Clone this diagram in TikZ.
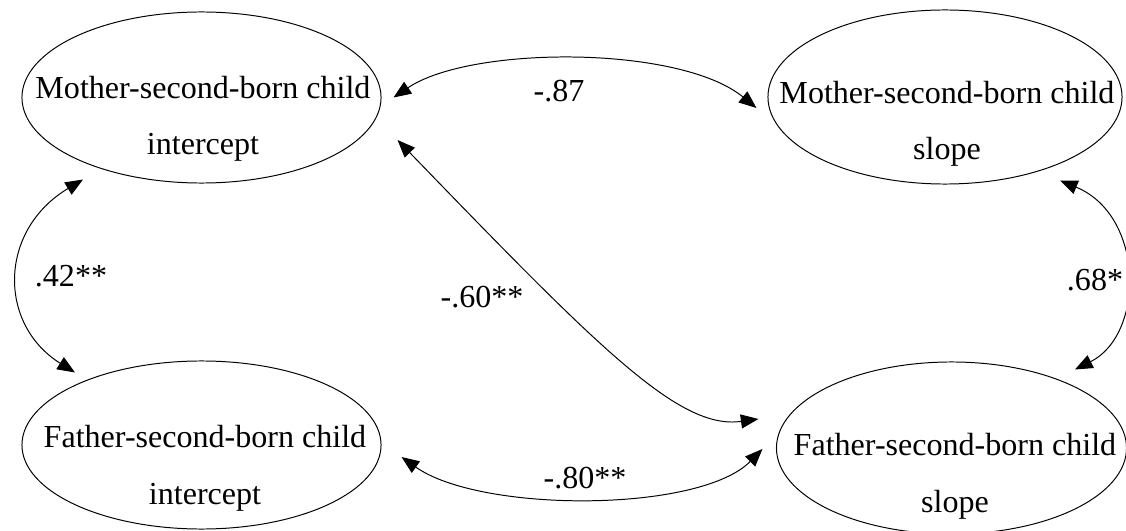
\documentclass[tikz,border=0pt]{standalone}
\usepackage{fontspec}
\setmainfont{Liberation Serif}
\usepackage{tikz}
\usetikzlibrary{arrows.meta}
\usetikzlibrary{shapes.geometric}
\tikzset{
    latent/.style = {ellipse, draw, line width=0.7pt, inner sep=0pt},
    varname/.style = {align=center, inner sep=0pt, anchor=base, font=\fontsize{22.8}{40.5}\selectfont},
    coef/.style = {inner sep=0pt, anchor=base, font=\fontsize{22.8}{27}\selectfont},
    cov/.style = {{Triangle[length=12.5pt, width=10pt]}-{Triangle[length=12.5pt, width=10pt]}, line width=0.7pt}
}

\begin{document}
\begin{tikzpicture}[x=0.025cm, y=-0.025cm]
                \useasboundingbox (0,0) rectangle (1126,531);
                % latent factors
                \node[latent, minimum width=8.975cm, minimum height=4.275cm] (mi) at (201.5,97.5) {};
                \node[latent, minimum width=8.85cm, minimum height=4.35cm] (ms) at (945,97) {};
                \node[latent, minimum width=8.975cm, minimum height=4.2cm] (fi) at (201.5,445) {};
                \node[latent, minimum width=8.75cm, minimum height=4.3cm] (fs) at (951.5,448) {};
                % base of a two-line node is its last line
                \node[varname] (mit) at (203,155) {Mother-second-born child\\intercept};
                \node[varname] (mst) at (947,160) {Mother-second-born child\\slope};
                \node[varname] (fit) at (205,504) {Father-second-born child\\intercept};
                \node[varname] (fst) at (955,512) {Father-second-born child\\slope};
                % covariances
                \draw[cov] ([shift={(12,0)}]mi.east) .. controls +(77,-52) and +(-77,-63) .. ([shift={(-11,11)}]ms.west);
                \draw[cov] ([shift={(-118.5,-4)}]mi.south) .. controls +(-85,51) and +(-77,-48) .. ([shift={(-126.5,12)}]fi.north);
                \draw[cov] ([shift={(16,42.5)}]mi.east) .. controls +(203,210) and +(-79,11) .. ([shift={(-17.5,-29)}]fs.west);
                \draw[cov] ([shift={(20,12)}]fi.east) .. controls +(79,56) and +(-63,64) .. ([shift={(-13.5,1)}]fs.west);
                \draw[cov] ([shift={(115,-4)}]ms.south) .. controls +(85,35) and +(70,-35) .. ([shift={(123.5,8)}]fs.north);
                \foreach \n/\x/\y/\t in {lmims/559/102/{-.87}, lmifi/71/287/{.42**}, lmifs/482/308/{-.60**}, lfifs/585/488/{-.80**}, lmsfs/1095/290/{.68*}} {
                        \node[coef] (\n) at (\x,\y) {\t};
                    }
            \end{tikzpicture}
\end{document}
